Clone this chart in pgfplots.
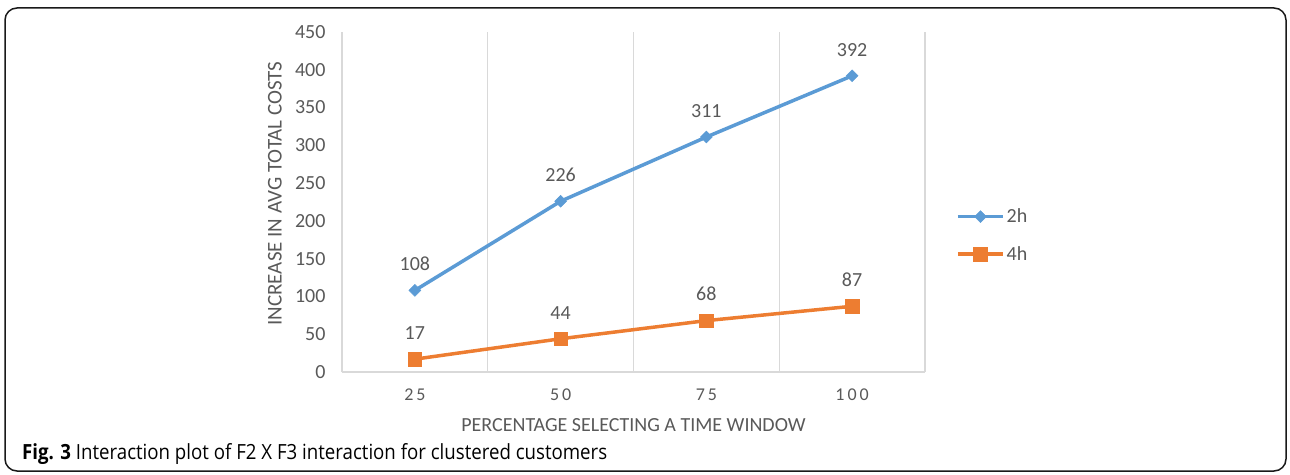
\documentclass[border=0pt]{standalone}
\usepackage{fontspec}
\setmainfont{Carlito}
\newfontfamily\capfont{Open Sans}
\usepackage{pgfplots}
\pgfplotsset{compat=1.18}
\definecolor{blueA}{HTML}{5B9BD5}
\definecolor{orangeA}{HTML}{ED7D31}
\definecolor{txt}{HTML}{595959}
\definecolor{gridc}{HTML}{D9D9D9}
\begin{document}
\begin{tikzpicture}[x=1pt,y=1pt]
\useasboundingbox (0,0) rectangle (1290,474);
\draw[line width=1.5pt, color=black!90, rounded corners=12pt] (5,3) rectangle (1286,466);
\begin{axis}[
  at={(342pt,102pt)}, anchor=south west,
  scale only axis, width=583pt, height=340pt,
  xmin=-0.5, xmax=3.5, ymin=0, ymax=450,
  xtick={0,1,2,3},
  xticklabels={2\hspace{3pt}5,5\hspace{3pt}0,7\hspace{3pt}5,1\hspace{3pt}0\hspace{3pt}0},
  minor xtick={-0.5,0.5,1.5,2.5,3.5},
  xminorgrids, minor grid style={gridc, line width=1.2pt},
  ytick={0,50,...,450},
  major tick length=0pt, minor tick length=0pt,
  axis x line*=bottom, axis y line*=left,
  x axis line style={gridc, line width=1.2pt, -},
  y axis line style={draw=none, -},
  /pgf/number format/assume math mode=true,
  yticklabel style={font=\fontsize{20}{24}\selectfont, text=txt, xshift=-13pt},
  xticklabel style={font=\fontsize{18}{22}\selectfont, text=txt, yshift=-13pt},
  xlabel={PERCENTAGE SELECTING A TIME WINDOW},
  ylabel={INCREASE IN AVG TOTAL COSTS},
  xlabel style={font=\fontsize{20}{24}\selectfont, text=txt, at={(axis description cs:0.5,0)}, anchor=center, yshift=-53pt},
  ylabel style={font=\fontsize{21}{25}\selectfont, text=txt, at={(axis description cs:-0.115,0.525)}, anchor=center},
  nodes near coords,
  nodes near coords style={font=\fontsize{20}{24}\selectfont, text=txt, anchor=south, yshift=16pt},
  legend style={draw=none, fill=none, at={(axis description cs:1,0.402)}, anchor=west, xshift=28pt,
    font=\fontsize{20}{24}\selectfont, text=txt, row sep=18pt},
  legend cell align=left,
  legend image code/.code={\draw[mark repeat=2,mark phase=2,#1] plot coordinates {(0pt,0pt) (22.5pt,0pt) (45pt,0pt)};},
  clip=false,
]
\addplot[color=blueA, line width=3.5pt, mark=square*, mark size=4.2pt,
  mark options={solid, rotate=45, fill=blueA, draw=blueA, line width=0.5pt}]
  coordinates {(0,108) (1,226) (2,311) (3,392)};
\addlegendentry{2h}
\addplot[color=orangeA, line width=3.5pt, mark=square*, mark size=6.8pt,
  mark options={solid, fill=orangeA, draw=orangeA, line width=0.5pt}]
  coordinates {(0,17) (1,44) (2,68) (3,87)};
\addlegendentry{4h}
\end{axis}
\node[anchor=base west, inner sep=0pt, text=black] at (22,15)
  {\scalebox{1}[1.12]{\resizebox{585pt}{!}{\capfont\fontsize{20}{24}\selectfont\textbf{Fig. 3} Interaction plot of F2 X F3 interaction for clustered customers}}};
\end{tikzpicture}
\end{document}
